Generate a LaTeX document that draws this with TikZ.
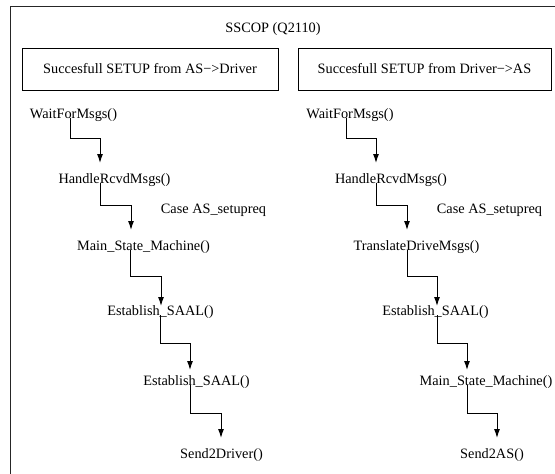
\documentclass[tikz,border=0pt]{standalone}
\usepackage{fontspec}
\setmainfont{Liberation Serif}
\usetikzlibrary{arrows.meta}
\begin{document}
\begin{tikzpicture}[x=1pt,y=-1pt,
  lbl/.style={inner sep=0pt, anchor=base, font=\fontsize{14.3}{17}\selectfont},
  panel/.style={draw, line width=0.9pt, inner sep=0pt, minimum height=42pt,
    font=\fontsize{14.3}{17}\selectfont},
  flow/.style={draw, line width=1pt, shorten >=20pt,
    -{Latex[length=9pt,width=6pt]}},
]
\useasboundingbox (0,0) rectangle (555,474);

% outer frame
\draw[line width=1.1pt, black!85] (10.5,474) -- (10.5,6.5) -- (555,6.5);

% title and panel headers
\node[lbl] (title) at (273,32) {SSCOP (Q2110)};
\node[panel, minimum width=256pt] (hleft) at (150,69) {Succesfull SETUP from AS−>Driver};
\node[panel, minimum width=253pt] (hright) at (424.5,69) {Succesfull SETUP from Driver−>AS};

% left call chain
\node[lbl] (lwait)   at (73.5,118)  {WaitForMsgs()};
\node[lbl] (lhandle) at (114.5,183) {HandleRcvdMsgs()};
\node[lbl] (lcase)   at (213.5,213) {Case AS\_setupreq};
\node[lbl] (lmain)   at (143.5,250) {Main\_State\_Machine()};
\node[lbl] (lest)    at (160.5,315) {Establish\_SAAL()};
\node[lbl] (lest2)   at (196.5,385) {Establish\_SAAL()};
\node[lbl] (lsend)   at (221.5,458) {Send2Driver()};

% right call chain
\node[lbl] (rwait)   at (350,118)   {WaitForMsgs()};
\node[lbl] (rhandle) at (391,183)   {HandleRcvdMsgs()};
\node[lbl] (rcase)   at (489.5,213) {Case AS\_setupreq};
\node[lbl] (rtrans)  at (416.5,250) {TranslateDriveMsgs()};
\node[lbl] (rest)    at (435.5,315) {Establish\_SAAL()};
\node[lbl] (rmain)   at (486,385)   {Main\_State\_Machine()};
\node[lbl] (rsend)   at (492,458)   {Send2AS()};

% bend points of the left connectors
\coordinate (la1) at (70,138);  \coordinate (lb1) at (100,138);
\coordinate (la2) at (100,205); \coordinate (lb2) at (131,205);
\coordinate (la3) at (130,276); \coordinate (lb3) at (161,276);
\coordinate (la4) at (160,343); \coordinate (lb4) at (190,343);
\coordinate (la5) at (190,413); \coordinate (lb5) at (221,413);

% bend points of the right connectors
\coordinate (ra1) at (346,138); \coordinate (rb1) at (376,138);
\coordinate (ra2) at (376,205); \coordinate (rb2) at (407,205);
\coordinate (ra3) at (407,276); \coordinate (rb3) at (437,276);
\coordinate (ra4) at (437,343); \coordinate (rb4) at (467,343);
\coordinate (ra5) at (467,413); \coordinate (rb5) at (497,413);

% left connectors
\draw[flow] (lwait.base -| la1) -- (la1) -- (lb1) -- (lhandle.base -| lb1);
\draw[flow] (lhandle.base -| la2) -- (la2) -- (lb2) -- (lmain.base -| lb2);
\draw[flow, shorten >=9pt] (lmain.base -| la3) -- (la3) -- (lb3) -- (lest.base -| lb3);
\draw[flow, shorten >=15pt] (lest.base -| la4) -- (la4) -- (lb4) -- (lest2.base -| lb4);
\draw[flow] (lest2.base -| la5) -- (la5) -- (lb5) -- (lsend.base -| lb5);

% right connectors
\draw[flow] (rwait.base -| ra1) -- (ra1) -- (rb1) -- (rhandle.base -| rb1);
\draw[flow] (rhandle.base -| ra2) -- (ra2) -- (rb2) -- (rtrans.base -| rb2);
\draw[flow, shorten >=9pt] (rtrans.base -| ra3) -- (ra3) -- (rb3) -- (rest.base -| rb3);
\draw[flow, shorten >=15pt] (rest.base -| ra4) -- (ra4) -- (rb4) -- (rmain.base -| rb4);
\draw[flow] (rmain.base -| ra5) -- (ra5) -- (rb5) -- (rsend.base -| rb5);
\end{tikzpicture}
\end{document}
